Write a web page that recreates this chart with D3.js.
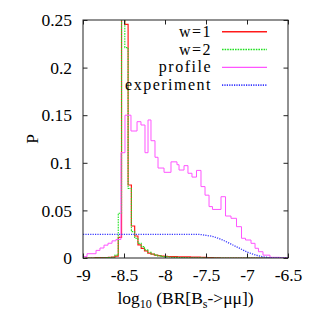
<!DOCTYPE html>
<html>
<head>
<meta charset="utf-8">
<script src="https://cdn.jsdelivr.net/npm/d3@7"></script>
<style>
  body { margin: 0; background: #fff; }
  text { font-family: "Liberation Serif", "DejaVu Serif", serif; }
</style>
</head>
<body>
<svg id="chart"></svg>
<script>
// axis ticks
const xTicks = [-9, -8.5, -8, -7.5, -7, -6.5];
const yTicks = [0, 0.05, 0.1, 0.15, 0.2, 0.25];
const yTickLabels = ['0', '0.05', '0.1', '0.15', '0.2', '0.25'];

// w=1 / w=2 histograms, bins of 0.04 starting at -8.97
const wBinStart = -8.97, wBinWidth = 0.04;
const w1 = [0, 0, 0, 0.0003, 0.0003, 0.0005, 0.0005, 0.0008, 0.001, 0.002,
  0.0217, 0.62, 0.2455, 0.0767, 0.0336, 0.0231, 0.0137, 0.0102, 0.0075, 0.0052,
  0.004, 0.003, 0.0025, 0.002, 0.0018, 0.0016, 0.0015, 0.0014, 0.0013, 0.0012,
  0.0012, 0.0011, 0.001, 0.001, 0.0009, 0.0008, 0.0006, 0.0004, 0.0003, 0.0002,
  0.0001, 0];
const w2 = [0, 0, 0, 0.0002, 0.0002, 0.0003, 0.0004, 0.0005, 0.0008, 0.003,
  0.047, 0.6, 0.221, 0.073, 0.0277, 0.0207, 0.0154, 0.0119, 0.0085, 0.006,
  0.0042, 0.003, 0.0022, 0.0016, 0.0012, 0.001, 0.0008, 0.0007, 0.0006, 0.0005,
  0.0004, 0.0003, 0.0003, 0.0002, 0.0002, 0.0001, 0];

// profile histogram (bin edges)
const profileEdges = [-9.0, -8.951, -8.841, -8.793, -8.744, -8.695, -8.646, -8.598,
  -8.537, -8.488, -8.415, -8.341, -8.293, -8.244, -8.207, -8.171, -8.122, -8.085,
  -8.012, -7.927, -7.854, -7.829, -7.768, -7.72, -7.671, -7.616, -7.561, -7.512,
  -7.463, -7.421, -7.317, -7.262, -7.195, -7.128, -7.067, -7.018, -6.951, -6.902,
  -6.86, -6.805, -6.72, -6.598, -6.5];
const profile = [0.0015, 0.0045, 0.008, 0.0105, 0.0135, 0.0155, 0.018, 0.0195,
  0.1106, 0.150, 0.1334, 0.1432, 0.1397, 0.1106, 0.145, 0.1232, 0.1058, 0.0945,
  0.09, 0.101, 0.098, 0.0924, 0.097, 0.089, 0.085, 0.092, 0.075, 0.066,
  0.054, 0.051, 0.0644, 0.0441, 0.0417, 0.0329, 0.0207, 0.0189, 0.0154, 0.0102,
  0.0066, 0.003, 0.0007, 0];

// experiment curve
const expX = [-9, -7.6, -7.5, -7.4, -7.3, -7.2, -7.1, -7.0, -6.9, -6.8, -6.7, -6.6, -6.5];
const expP = [0.0248, 0.0248, 0.0238, 0.0222, 0.019, 0.0148, 0.0106, 0.0064, 0.0033, 0.0012, 0.0002, 0, 0];

const W = 319, H = 311;
const margin = { top: 20, right: 31, bottom: 53, left: 83 };
const width = W - margin.left - margin.right;
const height = H - margin.top - margin.bottom;
const fontSize = 17.5;

const svg = d3.select('#chart').attr('width', W).attr('height', H);
const g = svg.append('g').attr('transform', `translate(${margin.left},${margin.top})`);

const x = d3.scaleLinear().domain([-9, -6.5]).range([0, width]);
const y = d3.scaleLinear().domain([0, 0.25]).range([height, 0]);

g.append('defs').append('clipPath').attr('id', 'clip')
  .append('rect').attr('width', width).attr('height', height);

// step points for a histogram
function steps(edges, vals) {
  const pts = [];
  vals.forEach((v, i) => {
    pts.push([edges[i], v]);
    pts.push([edges[i + 1], v]);
  });
  return pts;
}
const w1Edges = d3.range(w1.length + 1).map(i => wBinStart + i * wBinWidth);
const w2Edges = d3.range(w2.length + 1).map(i => wBinStart + i * wBinWidth);

const line = d3.line().x(d => x(d[0])).y(d => y(d[1]));

const plot = g.append('g').attr('clip-path', 'url(#clip)');

const series = [
  { name: 'w=1', pts: steps(w1Edges, w1).concat([[-6.5, 0]]), color: '#ff1a1a', dash: null, sw: 1.2, curve: d3.curveLinear },
  { name: 'w=2', pts: steps(w2Edges, w2).concat([[-6.5, 0]]), color: '#22e022', dash: '1.6,1', sw: 1.1, curve: d3.curveLinear },
  { name: 'profile', pts: steps(profileEdges, profile), color: '#ff55ff', dash: null, sw: 1, curve: d3.curveLinear },
  { name: 'experiment', pts: expX.map((v, i) => [v, expP[i]]), color: '#3838ff', dash: '1.2,1.2', sw: 1.3, curve: d3.curveMonotoneX }
];

series.forEach(s => {
  plot.append('path')
    .datum(s.pts)
    .attr('fill', 'none')
    .attr('stroke', s.color)
    .attr('stroke-width', s.sw)
    .attr('stroke-dasharray', s.dash)
    .attr('d', line.curve(s.curve));
});

// axes with inward ticks on all sides
const tick = 4.5;
const axisColor = '#222';
g.append('g')
  .attr('transform', `translate(0,${height})`)
  .call(d3.axisBottom(x).tickValues(xTicks).tickFormat(d => d).tickSize(-tick).tickPadding(11))
  .call(a => a.select('.domain').remove());
g.append('g')
  .call(d3.axisLeft(y).tickValues(yTicks).tickFormat((d, i) => yTickLabels[i]).tickSize(-tick).tickPadding(11))
  .call(a => a.select('.domain').remove());
g.append('g')
  .call(d3.axisTop(x).tickValues(xTicks).tickFormat('').tickSize(-tick))
  .call(a => a.select('.domain').remove());
g.append('g')
  .attr('transform', `translate(${width},0)`)
  .call(d3.axisRight(y).tickValues(yTicks).tickFormat('').tickSize(-tick))
  .call(a => a.select('.domain').remove());

g.selectAll('.tick line').attr('stroke', axisColor);
g.selectAll('.tick text')
  .attr('fill', '#000')
  .style('font-family', '"Liberation Serif", serif')
  .style('font-size', fontSize + 'px');

g.append('rect')
  .attr('width', width).attr('height', height)
  .attr('fill', 'none').attr('stroke', axisColor).attr('stroke-width', 1);

// legend
const legend = g.append('g');
series.forEach((s, i) => {
  const ly = 11.7 + i * 17.8;
  legend.append('text')
    .attr('x', 129)
    .attr('y', ly)
    .attr('dy', '0.32em')
    .attr('text-anchor', 'end')
    .style('font-size', '16px')
    .style('letter-spacing', '1.5px')
    .text(s.name);
  legend.append('line')
    .attr('x1', 139).attr('x2', 184)
    .attr('y1', ly).attr('y2', ly)
    .attr('stroke', s.color)
    .attr('stroke-width', s.sw + 0.3)
    .attr('stroke-dasharray', s.dash);
});

// axis labels
svg.append('text')
  .attr('transform', `translate(38,${margin.top + height / 2}) rotate(-90)`)
  .attr('text-anchor', 'middle')
  .style('font-size', fontSize + 'px')
  .text('P');

const xl = svg.append('text')
  .attr('x', margin.left + width / 2)
  .attr('y', 304)
  .attr('text-anchor', 'middle')
  .style('font-size', fontSize + 'px');
xl.append('tspan').text('log');
xl.append('tspan').attr('dy', 4).style('font-size', '12px').text('10');
xl.append('tspan').attr('dy', -4).text(' (BR[B');
xl.append('tspan').attr('dy', 4).style('font-size', '12px').text('s');
xl.append('tspan').attr('dy', -4).text('->\u03bc\u03bc])');
</script>
</body>
</html>
